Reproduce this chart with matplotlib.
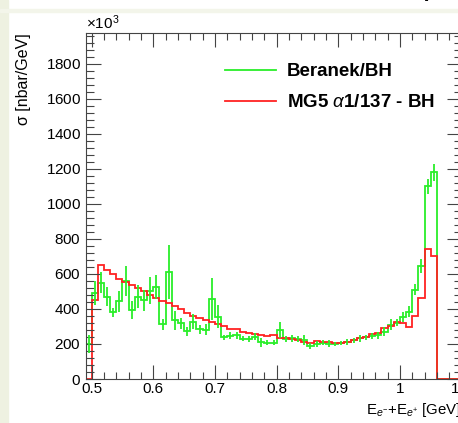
import numpy as np
import matplotlib
matplotlib.use("Agg")
import matplotlib.pyplot as plt
from matplotlib.ticker import MultipleLocator, ScalarFormatter

plt.rcParams['font.family'] = 'Liberation Sans'
plt.rcParams['mathtext.fontset'] = 'custom'
plt.rcParams['mathtext.rm'] = 'Liberation Sans'
plt.rcParams['mathtext.it'] = 'Liberation Sans:italic'

# bins of 0.01 GeV from 0.49 to 1.10
edges = np.round(np.arange(0.49, 1.1001, 0.01), 2)

# Beranek/BH, in 10^3 nbar/GeV
beranek = [200, 490, 550, 470, 380, 445, 560, 395, 470, 450,
           505, 525, 312, 613, 335, 318, 272, 328, 284, 282,
           457, 356, 238, 246, 250, 230, 228, 242, 210, 208,
           208, 282, 228, 232, 228, 222, 188, 200, 208, 200,
           200, 205, 212, 222, 232, 238, 245, 250, 270, 310,
           322, 355, 385, 510, 645, 1100, 1180, 0, 0, 0, 0]
beranek_err = [50, 70, 60, 55, 25, 60, 85, 50, 65, 60,
               75, 70, 30, 155, 55, 30, 25, 45, 25, 30,
               120, 65, 15, 20, 20, 15, 15, 20, 25, 15,
               15, 45, 15, 20, 15, 30, 15, 15, 15, 20,
               10, 10, 15, 15, 20, 15, 15, 20, 25, 30,
               20, 30, 30, 30, 40, 45, 50, 0, 0, 0, 0]

# MG5 alpha=1/137 - BH, in 10^3 nbar/GeV
mg5 = [0, 450, 650, 623, 600, 572, 557, 537, 520, 500,
       478, 462, 448, 434, 417, 402, 378, 362, 350, 338,
       328, 316, 300, 288, 286, 270, 262, 258, 252, 246,
       250, 235, 232, 226, 220, 214, 208, 215, 212, 210,
       205, 208, 214, 222, 232, 242, 255, 262, 289, 303,
       328, 318, 297, 362, 461, 741, 700, 0, 0, 0, 0]

scale = 1e3
beranek = np.array(beranek) * scale
beranek_err = np.array(beranek_err) * scale
mg5 = np.array(mg5) * scale
centers = 0.5 * (edges[1:] + edges[:-1])

W, H = 458, 423
fig = plt.figure(figsize=(W / 100, H / 100), dpi=100)
fig.patch.set_facecolor('white')

# axes frame in pixels: left 85.5, right 461.5, top 33, bottom 379
ax = fig.add_axes([85.5 / W, 1 - 379 / H, 376 / W, 346 / H])

green = '#2aee2a'
red = '#ff2222'
ax.stairs(beranek, edges, color=green, lw=1.3, baseline=0, label='Beranek/BH')
ok = beranek_err > 0
ax.errorbar(centers[ok], beranek[ok], yerr=beranek_err[ok], fmt='none',
            ecolor=green, elinewidth=1.3, capsize=0)
ax.stairs(mg5, edges, color=red, lw=1.3, baseline=0,
          label=r'MG5 $\alpha$1/137 - BH')

ax.set_xlim(0.49, 1.1)
ax.set_ylim(0, 1977 * scale)

ax.xaxis.set_major_locator(MultipleLocator(0.1))
ax.xaxis.set_minor_locator(MultipleLocator(0.02))
ax.yaxis.set_major_locator(MultipleLocator(200 * scale))
ax.yaxis.set_minor_locator(MultipleLocator(40 * scale))
fmt = ScalarFormatter(useMathText=True)
fmt.set_powerlimits((3, 3))
ax.yaxis.set_major_formatter(fmt)
ax.xaxis.set_major_formatter(matplotlib.ticker.FuncFormatter(
    lambda v, p: '1' if abs(v - 1) < 1e-6 else ('%.1f' % v)))
ax.yaxis.get_offset_text().set_fontsize(11)

ax.tick_params(which='both', direction='in', top=True, right=True,
               labelsize=11, color='#444444', width=0.8)
ax.tick_params(axis='y', which='major', length=11, pad=3)
ax.tick_params(axis='y', which='minor', length=5.5)
ax.tick_params(axis='x', which='major', length=10, pad=2)
ax.tick_params(axis='x', which='minor', length=5)
for s in ax.spines.values():
    s.set_color('#444444')
    s.set_linewidth(0.8)

ax.set_xlabel(r'E$_{e^{-}}$+E$_{e^{+}}$ [GeV]', loc='right', fontsize=10.8,
              labelpad=4)
fig.text(24 / W, 1 - 33 / H, 'σ [nbar/GeV]', rotation=90,
         ha='center', va='top', fontsize=11.5)

leg = ax.legend(loc='upper left', bbox_to_anchor=(225 / W, 1 - 63 / H),
                bbox_transform=fig.transFigure, frameon=False,
                prop={'weight': 'bold', 'size': 13.5}, handlelength=2.7,
                handletextpad=0.6, labelspacing=0.75, borderpad=0,
                borderaxespad=0)

# slide border and the cut-off label of the panel above
fig.patches.append(plt.Rectangle((0, 0), 7.5 / W, 1, transform=fig.transFigure,
                                 color='#eef1e1', zorder=0))
fig.patches.append(plt.Rectangle((0, 1 - 12 / H), 1, 2.5 / H,
                                 transform=fig.transFigure,
                                 color='#f3f5ea', zorder=0))
fig.text(463 / W, 1 + 6 / H, r'E$_{e^{-}}$+E$_{e^{+}}$ [GeV]', ha='right',
         va='center', fontsize=10.8)

fig.savefig('out.png', dpi=100)
